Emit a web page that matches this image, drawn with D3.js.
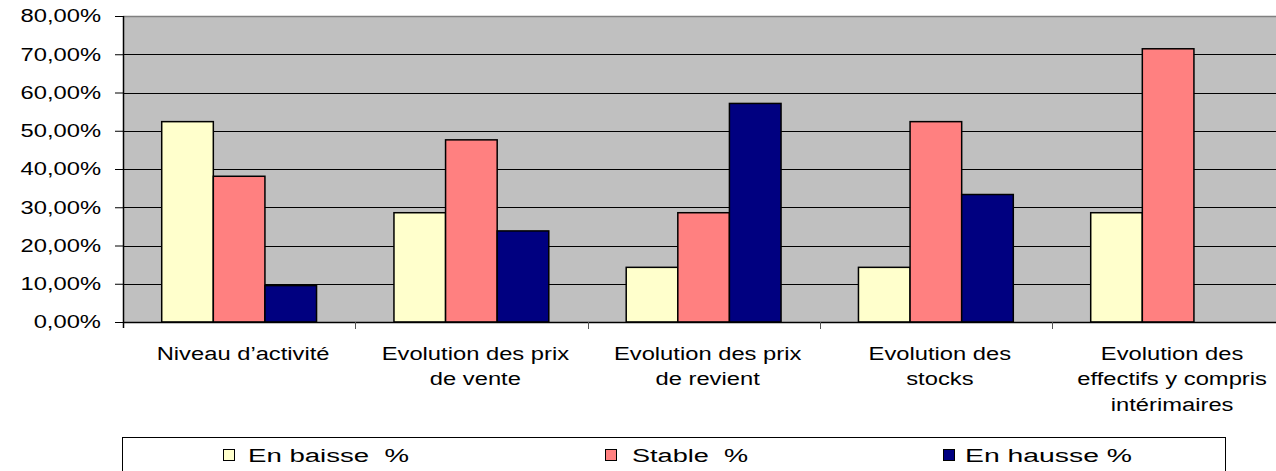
<!DOCTYPE html>
<html>
<head>
<meta charset="utf-8">
<script src="https://cdn.jsdelivr.net/npm/d3@7"></script>
<style>
  html, body { margin: 0; padding: 0; background: #ffffff; }
  svg { display: block; }
  text { font-family: "Liberation Sans", Arial, sans-serif; fill: #000; }
</style>
</head>
<body>
<svg id="chart" width="1276" height="471"></svg>
<script>
// ---- data ----
const categories = ["Niveau d’activité", "Evolution des prix de vente", "Evolution des prix de revient", "Evolution des stocks", "Evolution des effectifs y compris intérimaires"];
const categoryLines = [
  ["Niveau d’activité"],
  ["Evolution des prix", "de vente"],
  ["Evolution des prix", "de revient"],
  ["Evolution des", "stocks"],
  ["Evolution des", "effectifs y compris", "intérimaires"]
];
const seriesNames = ["En baisse  %", "Stable  %", "En hausse %"];
const enBaisse = [52.38, 28.57, 14.29, 14.29, 28.57];
const stable   = [38.10, 47.62, 28.57, 52.38, 71.43];
const enHausse = [9.52, 23.81, 57.14, 33.33, 0];
const yTicks = [0, 10, 20, 30, 40, 50, 60, 70, 80];
const seriesColors = ["#FFFFCC", "#FF8080", "#000080"];

// ---- layout ----
const svg = d3.select("#chart");
const pLeft = 123, pRight = 1284.25, pTop = 16, pBottom = 322;

const x0 = d3.scaleBand().domain(categories).range([pLeft, pRight]).paddingInner(0).paddingOuter(0);
const x1 = d3.scaleBand().domain(seriesNames).range([0, x0.bandwidth()]).paddingInner(0).paddingOuter(0.75);
const y = d3.scaleLinear().domain([0, 80]).range([pBottom, pTop]);
const color = d3.scaleOrdinal().domain(seriesNames).range(seriesColors);

const allSeries = [enBaisse, stable, enHausse];
const rows = categories.map((c, i) => ({ cat: c, values: seriesNames.map((s, j) => ({ s, v: allSeries[j][i] })) }));

// plot background
svg.append("rect")
  .attr("x", pLeft).attr("y", pTop)
  .attr("width", pRight - pLeft).attr("height", pBottom - pTop)
  .attr("fill", "#C0C0C0");

// gridlines
svg.append("g").selectAll("line")
  .data(yTicks.filter(t => t > 0 && t < 80))
  .join("line")
  .attr("x1", pLeft).attr("x2", pRight)
  .attr("y1", d => Math.round(y(d)) + 0.5).attr("y2", d => Math.round(y(d)) + 0.5)
  .attr("stroke", "#000").attr("stroke-width", 1);

// top border
svg.append("line")
  .attr("x1", pLeft).attr("x2", pRight)
  .attr("y1", pTop + 0.5).attr("y2", pTop + 0.5)
  .attr("stroke", "#808080").attr("stroke-width", 1.5);

// bars
const groups = svg.append("g").selectAll("g")
  .data(rows).join("g")
  .attr("transform", d => `translate(${x0(d.cat)},0)`);
groups.selectAll("rect")
  .data(d => d.values.filter(e => e.v > 0))
  .join("rect")
  .attr("x", d => x1(d.s))
  .attr("y", d => y(d.v))
  .attr("width", x1.bandwidth())
  .attr("height", d => y(0) - y(d.v))
  .attr("fill", d => color(d.s))
  .attr("stroke", "#000").attr("stroke-width", 1.5);

// y axis
const fmt = v => d3.format(".2f")(v).replace(".", ",") + "%";
const yAxis = svg.append("g")
  .attr("transform", `translate(${pLeft},0)`)
  .call(d3.axisLeft(y).tickValues(yTicks).tickSize(8).tickPadding(0).tickFormat(fmt));
yAxis.select(".domain").attr("stroke", "#000").attr("stroke-width", 1.5)
  .attr("d", `M0.5,${pTop}V${pBottom + 6}`);
yAxis.selectAll(".tick line").attr("stroke", "#000");
yAxis.selectAll(".tick text")
  .attr("x", 0)
  .attr("font-size", 18)
  .attr("fill", "#000")
  .attr("transform", "translate(-22,0) scale(1.32,1)");

// x axis
const xAxis = svg.append("g")
  .attr("transform", `translate(0,${pBottom})`)
  .call(d3.axisBottom(x0).tickSize(0).tickFormat(""));
xAxis.select(".domain").attr("stroke", "#000").attr("stroke-width", 1.5).attr("d", `M${pLeft},0.5H${pRight}`);
// category boundary ticks
svg.append("g").selectAll("line")
  .data(categories.slice(1))
  .join("line")
  .attr("x1", d => Math.round(x0(d)) + 0.5).attr("x2", d => Math.round(x0(d)) + 0.5)
  .attr("y1", pBottom).attr("y2", pBottom + 7)
  .attr("stroke", "#555").attr("stroke-width", 1);

// category labels
const labels = svg.append("g").selectAll("g")
  .data(categories).join("g")
  .attr("transform", (d, i) => `translate(${x0(d) + x0.bandwidth() / 2 + 4},0)`);
labels.each(function(d, i) {
  d3.select(this).selectAll("text")
    .data(categoryLines[i]).join("text")
    .attr("text-anchor", "middle")
    .attr("font-size", 18)
    .attr("transform", (t, k) => `translate(0,${359.5 + k * 25.5}) scale(1.32,1)`)
    .text(t => t);
});

// legend
svg.append("rect")
  .attr("x", 122.5).attr("y", 437.5)
  .attr("width", 1103).attr("height", 60)
  .attr("fill", "#fff").attr("stroke", "#000").attr("stroke-width", 1);
const legendX = [223, 605, 943];
const legendTextX = [248, 632, 965];
const legendLen = [161, 116, 167];
const leg = svg.append("g").selectAll("g").data(seriesNames).join("g");
leg.append("rect")
  .attr("x", (d, i) => legendX[i] + 0.5).attr("y", 449.5)
  .attr("width", 11).attr("height", 11)
  .attr("fill", d => color(d)).attr("stroke", "#000").attr("stroke-width", 1);
leg.append("text")
  .attr("x", (d, i) => legendTextX[i]).attr("y", 461.5)
  .attr("font-size", 18)
  .attr("xml:space", "preserve")
  .style("white-space", "pre")
  .attr("textLength", (d, i) => legendLen[i])
  .attr("lengthAdjust", "spacingAndGlyphs")
  .text(d => d);
</script>
</body>
</html>
